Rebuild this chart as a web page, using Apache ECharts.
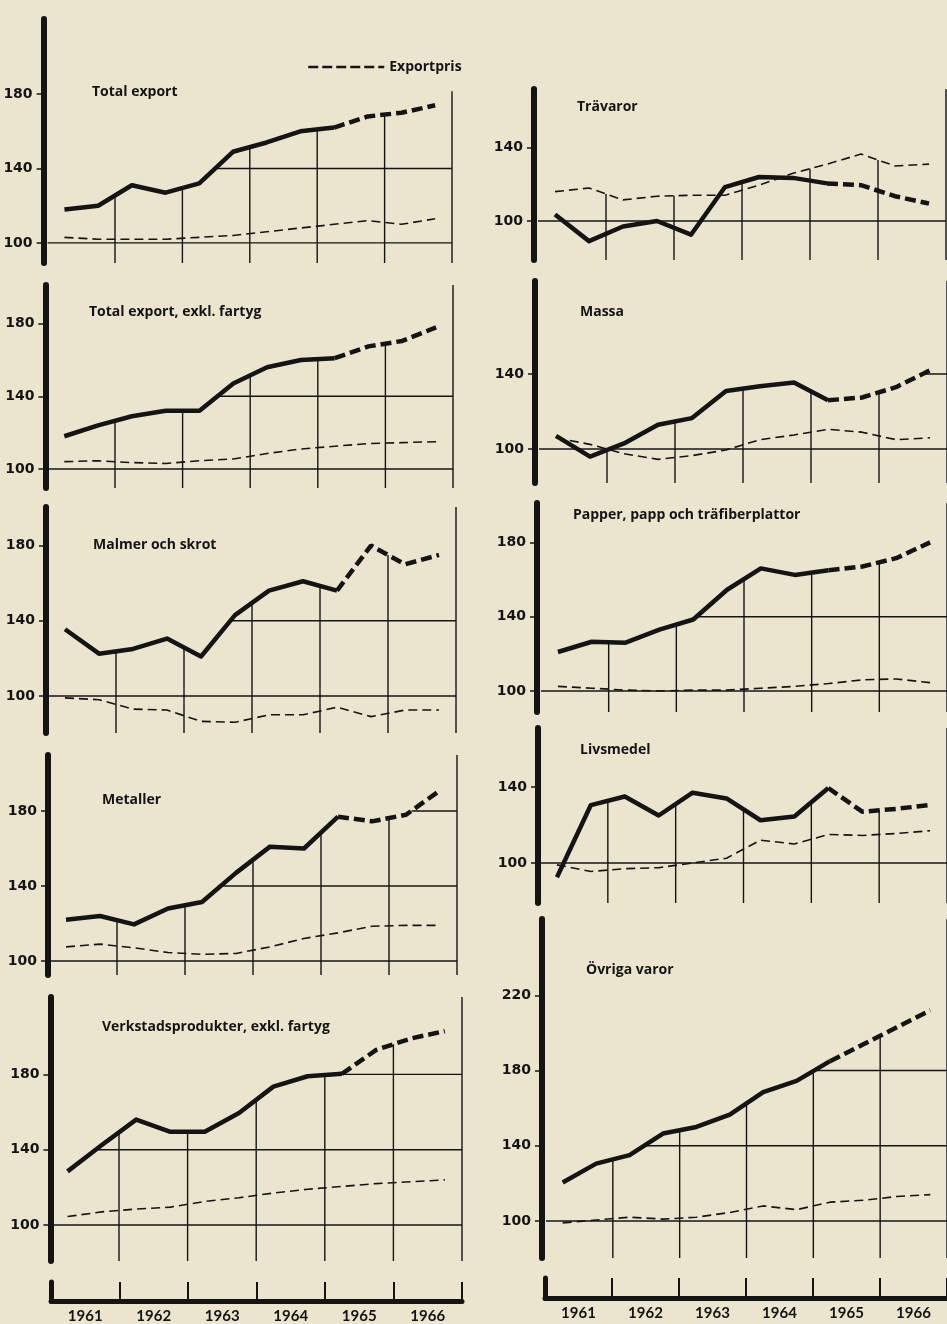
<!DOCTYPE html>
<html>
<head>
<meta charset="utf-8">
<script src="https://cdn.jsdelivr.net/npm/echarts@6/dist/echarts.min.js"></script>
<style>
html,body{margin:0;padding:0;background:#ebe5d0;}
#chart{width:947px;height:1324px;}
</style>
</head>
<body>
<div id="chart"></div>
<script>
// halvårsvärden, index 1961 = 100 ; sista 4 punkter (från index 8) = prognos
var halfYears = [1961.25, 1961.75, 1962.25, 1962.75, 1963.25, 1963.75, 1964.25, 1964.75, 1965.25, 1965.75, 1966.25, 1966.75];
var yearTicks = [1962, 1963, 1964, 1965, 1966, 1967];
var yearLabels = ['1961', '1962', '1963', '1964', '1965', '1966'];

var totalVol = [118, 120, 131, 127, 132, 149, 154, 160, 162, 168, 170, 174];
var totalPris = [103, 102, 102, 102, 103, 104, 106, 108, 110, 112, 110, 113];
var exklVol = [118, 124, 129, 132, 132, 147, 156, 160, 161, 167.5, 170.5, 178];
var exklPris = [104, 104.5, 103.5, 103, 104.5, 105.5, 108.5, 111, 112.5, 114, 114.5, 115];
var malmVol = [135.5, 122.5, 125, 130.5, 121, 143, 156, 161, 156, 180, 170, 175];
var malmPris = [99, 98, 93, 92.5, 86.5, 86, 90, 90, 94, 89, 92.5, 92.5];
var metallVol = [122, 124, 119.5, 128, 131.5, 147, 161, 160, 177, 174.5, 178, 191];
var metallPris = [107.5, 109, 107, 104.5, 103.5, 104, 107.5, 112, 115, 118.5, 119, 119];
var verkstadVol = [128.5, 142.5, 156, 149.5, 149.5, 159.5, 173.5, 179, 180.3, 193, 199, 203];
var verkstadPris = [104.5, 107, 108.5, 109.5, 112.5, 114.5, 117, 119, 120.5, 122, 123, 124];
var travarorVol = [103.5, 89, 97, 100, 92.5, 118.5, 124, 123.5, 120.5, 119.5, 113.5, 109.5];
var travarorPris = [116, 118, 111.5, 113.5, 114, 114, 119.5, 126, 131, 136.5, 130, 131];
var massaVol = [107, 96, 103, 113, 116.5, 131, 133.5, 135.5, 126, 127.5, 133, 142];
var massaPris = [106, 102.5, 97.5, 94.5, 96.5, 99.5, 105, 107.5, 110.5, 109, 105, 106];
var papperVol = [121, 126.5, 126, 133, 138.5, 154.5, 166, 162.5, 165, 167, 171.5, 180];
var papperPris = [102.5, 101.5, 100.5, 100, 100.5, 100.5, 101.5, 102.5, 104, 106, 106.5, 104.5];
var livsVol = [92.5, 130.5, 135, 125, 137, 134, 122.5, 124.5, 139.5, 127, 128.5, 130.5];
var livsPris = [99, 95.5, 97, 97.5, 100, 102.5, 112, 110, 115, 114.5, 115.5, 117];
var ovrigaVol = [120.5, 130.5, 135, 146.5, 150, 156.5, 168.5, 174.5, 185, 194, 203, 212];
var ovrigaPris = [99, 100.5, 102, 101, 102, 104.5, 108, 106, 110, 111, 113, 114];

var ticks3 = [100, 140, 180];
var ticks2 = [100, 140];
var ticks4 = [100, 140, 180, 220];

var INK = '#141414';
var FORECAST_FROM = 8;

// x0 = 1961, w = bredd t.o.m. 1967, top/bottom px, yMin/yMax, off = axelns förskjutning
var panels = [
  {name:'Total export', vol:totalVol, pris:totalPris, ticks:ticks3, x0:47.6, w:404.4, top:19, bottom:263, yMin:89.2, yMax:220.4, off:4, tx:92, ty:95, border:181.6},
  {name:'Total export, exkl. fartyg', vol:exklVol, pris:exklPris, ticks:ticks3, x0:47.4, w:405.6, top:285, bottom:488, yMin:89.5, yMax:201.3, off:2, tx:89, ty:315},
  {name:'Malmer och skrot', vol:malmVol, pris:malmPris, ticks:ticks3, x0:48, w:408, top:507, bottom:733, yMin:80.3, yMax:200.5, off:2, tx:93, ty:548},
  {name:'Metaller', vol:metallVol, pris:metallPris, ticks:ticks3, x0:49, w:408, top:755, bottom:975, yMin:92.5, yMax:209.9, off:1, tx:102, ty:803},
  {name:'Verkstadsprodukter, exkl. fartyg', vol:verkstadVol, pris:verkstadPris, ticks:ticks3, x0:50.4, w:411.6, top:997, bottom:1261, yMin:80.9, yMax:221.1, off:0, tx:102, ty:1030},
  {name:'Trävaror', vol:travarorVol, pris:travarorPris, ticks:ticks2, x0:538, w:408, top:89, bottom:260, yMin:78.7, yMax:172, off:4, tx:577, ty:110},
  {name:'Massa', vol:massaVol, pris:massaPris, ticks:ticks2, x0:539, w:408, top:281, bottom:483, yMin:81.9, yMax:189.6, off:4, tx:580, ty:315},
  {name:'Papper, papp och träfiberplattor', vol:papperVol, pris:papperPris, ticks:ticks3, x0:541, w:409, top:503, bottom:712, yMin:88.7, yMax:201.2, off:4, tx:573, ty:518},
  {name:'Livsmedel', vol:livsVol, pris:livsPris, ticks:ticks2, x0:540, w:412, top:728, bottom:903, yMin:78.9, yMax:171.1, off:2, tx:580, ty:753},
  {name:'Övriga varor', vol:ovrigaVol, pris:ovrigaPris, ticks:ticks4, x0:546, w:408, top:919, bottom:1258, yMin:80.3, yMax:260.6, off:4, tx:586, ty:973}
];

function interp(xs, ys, x){
  if (x < xs[0] || x > xs[xs.length - 1]) return null;
  for (var i = 0; i < xs.length - 1; i++) {
    if (x >= xs[i] && x <= xs[i + 1]) {
      var f = (x - xs[i]) / (xs[i + 1] - xs[i]);
      return ys[i] + f * (ys[i + 1] - ys[i]);
    }
  }
  return null;
}
function envelope(p, x){
  var a = interp(halfYears, p.vol, x), b = interp(halfYears, p.pris, x);
  if (a == null) return null;
  return Math.max(a, b);
}
function pairs(xs, ys, from, to){
  var out = [];
  for (var i = from; i <= to; i++) out.push([xs[i], ys[i]]);
  return out;
}

var grids = [], xAxes = [], yAxes = [], series = [], titles = [];

function seg(gi, a, b){
  series.push({
    type:'line', xAxisIndex:gi, yAxisIndex:gi, data:[a, b], symbol:'none', silent:true, z:1,
    lineStyle:{color:INK, width:1.4}, animation:false
  });
}

panels.forEach(function(p, gi){
  grids.push({left:p.x0, width:p.w, top:p.top, height:p.bottom - p.top});
  xAxes.push({gridIndex:gi, type:'value', min:1961, max:1967, show:false});
  yAxes.push({
    gridIndex:gi, type:'value', min:p.yMin, max:p.yMax, offset:p.off,
    axisLine:{show:true, lineStyle:{color:INK, width:6}},
    axisTick:{show:true, customValues:p.ticks, length:7, lineStyle:{color:INK, width:1.5}},
    axisLabel:{customValues:p.ticks, margin:11, color:INK, fontFamily:'DejaVu Sans', fontWeight:'bold', fontSize:14},
    splitLine:{show:false}
  });
  titles.push({text:p.name, left:p.tx, top:p.ty - 10, padding:0,
    textStyle:{color:INK, fontFamily:'Open Sans', fontWeight:'bold', fontSize:14}});

  // rutnät: bara under kurvorna
  seg(gi, [1961, 100], [1967, 100]);
  [1962, 1963, 1964, 1965, 1966].forEach(function(yr){
    seg(gi, [yr, p.yMin], [yr, envelope(p, yr)]);
  });
  seg(gi, [1967, p.yMin], [1967, p.border != null ? p.border : p.yMax]);
  p.ticks.forEach(function(level){
    if (level <= 100) return;
    var start = null, step = 0.005, last = halfYears[halfYears.length - 1];
    for (var x = halfYears[0]; x <= last + 1e-9; x += step) {
      var above = envelope(p, Math.min(x, last)) > level;
      if (above && start == null) start = x;
      if (!above && start != null) { seg(gi, [start, level], [x, level]); start = null; }
    }
    if (start != null) seg(gi, [start, level], [1967, level]);
  });

  series.push({
    name:'Exportpris', type:'line', xAxisIndex:gi, yAxisIndex:gi, z:2,
    data:pairs(halfYears, p.pris, 0, halfYears.length - 1), symbol:'none', silent:true,
    itemStyle:{color:INK},
    lineStyle:{color:INK, width:1.6, type:[9, 5]}
  });
  series.push({
    name:p.name, type:'line', xAxisIndex:gi, yAxisIndex:gi, z:3,
    data:pairs(halfYears, p.vol, 0, FORECAST_FROM), symbol:'none', silent:true,
    itemStyle:{color:INK},
    lineStyle:{color:INK, width:4.5, join:'round'}
  });
  series.push({
    name:p.name + ' prognos', type:'line', xAxisIndex:gi, yAxisIndex:gi, z:3,
    data:pairs(halfYears, p.vol, FORECAST_FROM, halfYears.length - 1), symbol:'none', silent:true,
    itemStyle:{color:INK},
    lineStyle:{color:INK, width:4.5, type:[11, 5]}
  });
});

// tidsaxlar längst ner
var labelPos = yearLabels.map(function(l){ return +l + 0.5; });
[{left:51, width:411, top:1282, height:19}, {left:545, width:409, top:1278, height:20}].forEach(function(g){
  var gi = grids.length;
  grids.push(g);
  xAxes.push({
    gridIndex:gi, type:'value', min:1961, max:1967,
    axisLine:{show:true, lineStyle:{color:INK, width:5}},
    axisTick:{show:true, inside:true, customValues:yearTicks, length:g.height, lineStyle:{color:INK, width:2}},
    axisLabel:{customValues:labelPos, margin:8, color:INK, fontFamily:'Lato', fontWeight:'bold', fontSize:15,
      formatter:function(v){ return yearLabels[Math.floor(v) - 1961]; }},
    splitLine:{show:false}
  });
  yAxes.push({gridIndex:gi, type:'value', min:0, max:1,
    axisLine:{show:true, lineStyle:{color:INK, width:5}},
    axisTick:{show:false}, axisLabel:{show:false}, splitLine:{show:false}});
});

var chart = echarts.init(document.getElementById('chart'));
chart.setOption({
  backgroundColor:'#ebe5d0',
  animation:false,
  title:titles,
  legend:{
    data:['Exportpris'], left:307, top:60, itemWidth:76, itemHeight:14, padding:0,
    selectedMode:false,
    itemStyle:{opacity:0},
    lineStyle:{width:2.5, type:[10, 4], color:INK},
    textStyle:{color:INK, fontFamily:'Open Sans', fontWeight:'bold', fontSize:14}
  },
  grid:grids,
  xAxis:xAxes,
  yAxis:yAxes,
  series:series
});
</script>
</body>
</html>
